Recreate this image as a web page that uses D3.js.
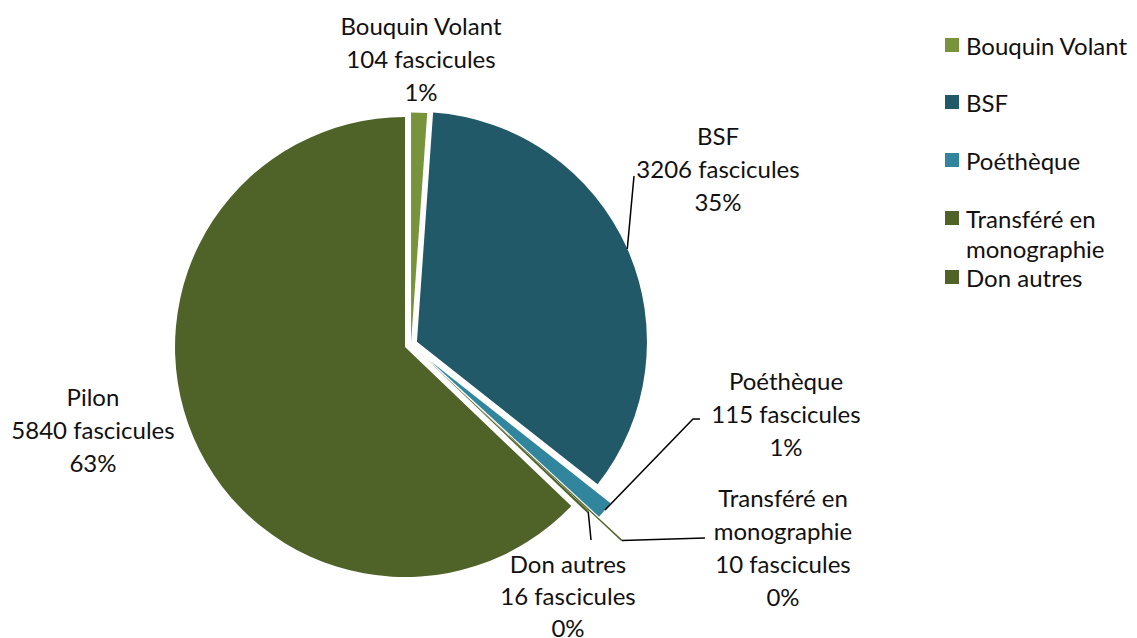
<!DOCTYPE html>
<html>
<head>
<meta charset="utf-8">
<script src="https://cdn.jsdelivr.net/npm/d3@7"></script>
<style>
  body { margin: 0; background: #fff; }
  text { font-family: Lato, "Open Sans", sans-serif; fill: #111; }
</style>
</head>
<body>
<div id="chart"></div>
<script>
// data
const categories = ["Bouquin Volant", "BSF", "Poéthèque", "Transféré en monographie", "Don autres", "Pilon"];
const counts = [104, 3206, 115, 10, 16, 5840];
const labelLines = [["Bouquin Volant"], ["BSF"], ["Poéthèque"], ["Transféré en", "monographie"], ["Don autres"], ["Pilon"]];
const legendItems = ["Bouquin Volant", "BSF", "Poéthèque", "Transféré en monographie", "Don autres"];

// styling / layout
const colors = ["#77933C", "#215968", "#31859C", "#4F6228", "#4F6228", "#4F6228"];
const explode = [2, 6.5, 25, 58, 14, 6.5];
const width = 1137, height = 638;
const cx = 411, cy = 344.5, radius = 230;
const fontSize = 24, lineStep = 33;
// label block: center x, y of first line
const labelPos = [[421, 25], [718, 135], [786, 380], [783, 497], [568, 563], [93, 396]];
// leader line end points (null = no leader)
const leaderEnds = [null, [[634, 176]], [[693, 419], [700, 419]], [[705, 538]], [[591, 540]], null];

const total = d3.sum(counts);

const svg = d3.select("#chart")
  .append("svg")
  .attr("width", width)
  .attr("height", height);

const pie = d3.pie().sort(null).value((d) => d)(counts);
const arc = d3.arc().innerRadius(0).outerRadius(radius);

const g = svg.append("g").attr("transform", `translate(${cx},${cy})`);

// slices, each pushed out along its mid angle
const offset = (d, i) => {
  const a = (d.startAngle + d.endAngle) / 2;
  return [Math.sin(a) * explode[i], -Math.cos(a) * explode[i]];
};

g.selectAll("path.slice")
  .data(pie)
  .enter()
  .append("path")
  .attr("class", "slice")
  .attr("transform", (d, i) => `translate(${offset(d, i)})`)
  .attr("d", arc)
  .attr("fill", (d, i) => colors[i]);

// leader lines from outer arc mid point
pie.forEach((d, i) => {
  if (!leaderEnds[i]) return;
  const a = (d.startAngle + d.endAngle) / 2;
  const o = offset(d, i);
  const start = [cx + o[0] + Math.sin(a) * radius, cy + o[1] - Math.cos(a) * radius];
  const pts = [start].concat(leaderEnds[i]);
  svg.append("path")
    .attr("d", d3.line()(pts))
    .attr("fill", "none")
    .attr("stroke", "#000")
    .attr("stroke-width", 1.5);
});

// data labels
pie.forEach((d, i) => {
  const lines = labelLines[i].concat([
    `${counts[i]} fascicules`,
    `${Math.round((counts[i] / total) * 100)}%`
  ]);
  const step = i === 4 ? 32 : lineStep;
  const t = svg.append("text")
    .attr("text-anchor", "middle")
    .style("font-size", fontSize + "px");
  lines.forEach((s, k) => {
    t.append("tspan")
      .attr("x", labelPos[i][0])
      .attr("y", labelPos[i][1] + k * step)
      .attr("dominant-baseline", "central")
      .text(s);
  });
});

// legend
const legendY = [45, 102, 160, 218, 277];
const legend = svg.append("g");
legendItems.forEach((name, i) => {
  legend.append("rect")
    .attr("x", 945)
    .attr("y", legendY[i] - 7)
    .attr("width", 14)
    .attr("height", 14)
    .attr("fill", colors[i]);
  const t = legend.append("text").style("font-size", fontSize + "px");
  const parts = name === "Transféré en monographie" ? ["Transféré en", "monographie"] : [name];
  parts.forEach((s, k) => {
    t.append("tspan")
      .attr("x", 966)
      .attr("y", legendY[i] + k * 30)
      .attr("dominant-baseline", "central")
      .text(s);
  });
});
</script>
</body>
</html>
